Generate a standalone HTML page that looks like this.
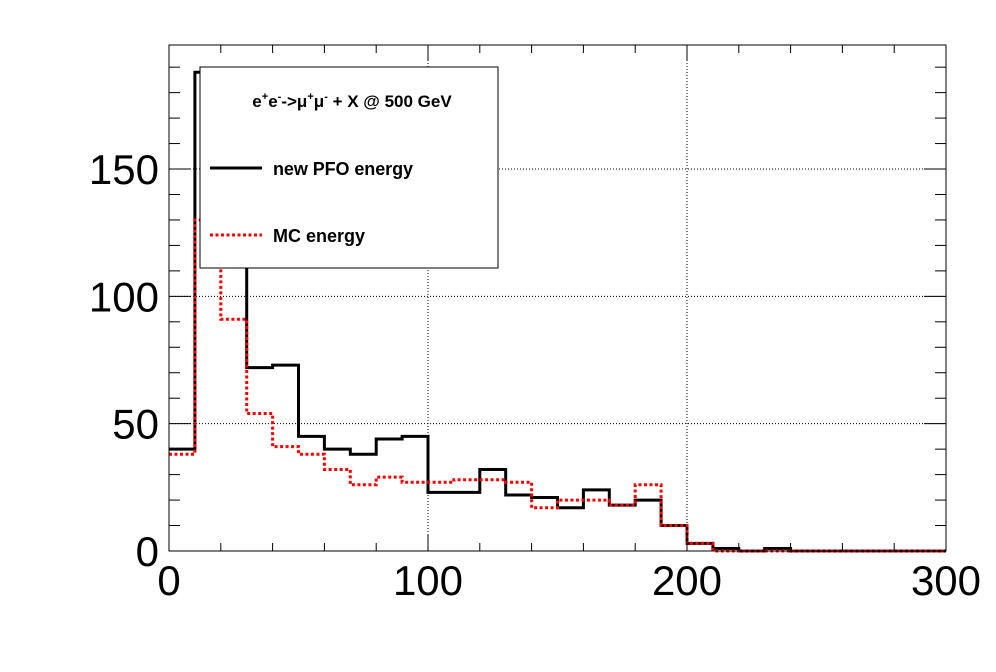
<!DOCTYPE html>
<html><head><meta charset="utf-8"><style>
body{margin:0;background:#fff;}
svg{display:block;font-family:"Liberation Sans",Arial,sans-serif;}
</style></head><body>
<svg id="chart" width="996" height="672" viewBox="0 0 996 672">
<rect width="996" height="672" fill="#fff"/>
<g id="grid"></g>
<g id="series"></g>
<g id="axes"></g>
<g id="legend">
<rect x="200" y="67" width="298" height="201" fill="#fff" stroke="#000" stroke-width="1"/>
<text x="352" y="107" font-size="17" font-weight="bold" text-anchor="middle">e<tspan font-size="11" dy="-7">+</tspan><tspan dy="7">e</tspan><tspan font-size="11" dy="-7">-</tspan><tspan dy="7">-&gt;μ</tspan><tspan font-size="11" dy="-7">+</tspan><tspan dy="7">μ</tspan><tspan font-size="11" dy="-7">-</tspan><tspan dy="7"> + X @ 500 GeV</tspan></text>
<line x1="210" y1="168" x2="262" y2="168" stroke="#000" stroke-width="3"/>
<text x="273" y="175" font-size="18" font-weight="bold" textLength="140">new PFO energy</text>
<line x1="210" y1="235" x2="262" y2="235" stroke="#f00" stroke-width="3" stroke-dasharray="3,2.5"/>
<text x="273" y="242" font-size="18" font-weight="bold">MC energy</text>
</g>
</svg>
<script>
const binEdges=[0,10,20,30,40,50,60,70,80,90,100,110,120,130,140,150,160,170,180,190,200,210,220,230,240,250,260,270,280,290];
const pfoValues=[40,188,150,72,73,45,40,38,44,45,23,23,32,22,21,17,24,18,20,10,3,1,0,1,0,0,0,0,0,0];
const mcValues=[38,130,91,54,41,38,32,26,29,27,27,28,28,27,17,20,20,18,26,10,3,0,0,0,0,0,0,0,0,0];
const xTicks=[0,100,200,300];
const yTicks=[0,50,100,150];
const binWidth=10;
const X0=169,X1=946,Y0=551,Y1=45,XMAX=300,YMAX=198.7;
const sx=v=>X0+(X1-X0)*v/XMAX;
const sy=v=>Y0-(Y0-Y1)*v/YMAX;
const NS="http://www.w3.org/2000/svg";
function mk(tag,attrs,parent){const e=document.createElementNS(NS,tag);for(const k in attrs)e.setAttribute(k,attrs[k]);parent.appendChild(e);return e;}
const grid=document.getElementById('grid'),axes=document.getElementById('axes'),series=document.getElementById('series');
xTicks.forEach(t=>{if(t>0&&t<XMAX){const l=mk('line',{x1:sx(t),x2:sx(t),y1:Y1,y2:Y0,stroke:'#000','stroke-width':1,'stroke-dasharray':'1,2'},grid);

}});
yTicks.forEach(t=>{if(t>0){const l=mk('line',{x1:X0,x2:X1,y1:sy(t),y2:sy(t),stroke:'#000','stroke-width':1,'stroke-dasharray':'1,2'},grid);

}});
function path(vals,color,dash,name){let d='M'+sx(binEdges[0])+','+sy(vals[0]);
vals.forEach((v,i)=>{d+=' L'+sx(binEdges[i])+','+sy(v)+' L'+sx(binEdges[i]+binWidth)+','+sy(v);});
const p=mk('path',{d:d,fill:'none',stroke:color,'stroke-width':3},series);if(dash)p.setAttribute('stroke-dasharray',dash);

}
path(pfoValues,'#000',null,'pfo-energy-series');
path(mcValues,'#f00','3,2.5','mc-energy-series');
const frame=mk('rect',{x:X0,y:Y1,width:X1-X0,height:Y0-Y1,fill:'none',stroke:'#000','stroke-width':1},axes);


for(let v=0;v<=XMAX;v+=20){const L=(v%100===0)?16:8;mk('line',{x1:sx(v),x2:sx(v),y1:Y0,y2:Y0-L,stroke:'#000'},axes);mk('line',{x1:sx(v),x2:sx(v),y1:Y1,y2:Y1+L,stroke:'#000'},axes);}
for(let v=0;v<=YMAX;v+=10){const L=(v%50===0)?22:11;mk('line',{x1:X0,x2:X0+L,y1:sy(v),y2:sy(v),stroke:'#000'},axes);mk('line',{x1:X1,x2:X1-L,y1:sy(v),y2:sy(v),stroke:'#000'},axes);}
xTicks.forEach(t=>{const e=mk('text',{x:sx(t),y:595,'font-size':42,'text-anchor':'middle'},axes);e.textContent=t;

});
yTicks.forEach(t=>{const e=mk('text',{x:159,y:sy(t)+15,'font-size':42,'text-anchor':'end'},axes);e.textContent=t;

});
</script>
</body></html>
